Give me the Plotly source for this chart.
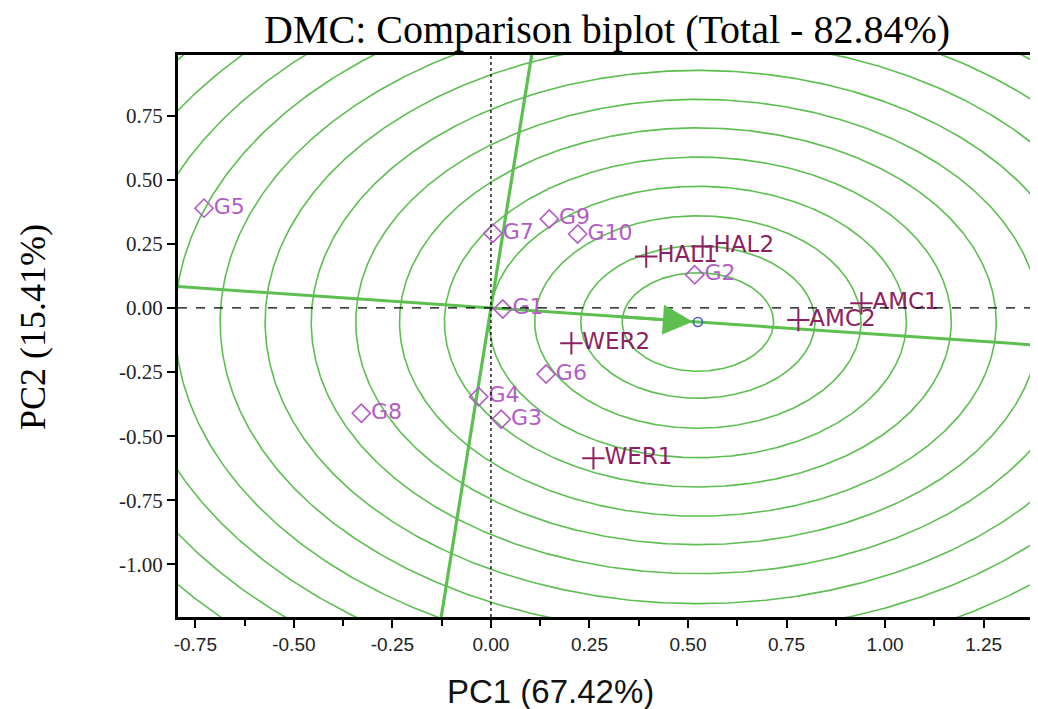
import numpy as np
import plotly.graph_objects as go

# ---------------- data ----------------
gen_names = ["G1", "G2", "G3", "G4", "G5", "G6", "G7", "G8", "G9", "G10"]
gen_pc1 = [0.030, 0.517, 0.026, -0.031, -0.728, 0.140, 0.005, -0.329, 0.148, 0.220]
gen_pc2 = [-0.004, 0.129, -0.434, -0.346, 0.389, -0.258, 0.291, -0.411, 0.347, 0.288]

env_names = ["HAL1", "HAL2", "AMC1", "AMC2", "WER1", "WER2"]
env_pc1 = [0.394, 0.537, 0.940, 0.780, 0.260, 0.204]
env_pc2 = [0.200, 0.239, 0.018, -0.047, -0.586, -0.138]

ideal_pc1 = [0.525]
ideal_pc2 = [-0.055]

circle_radii = [0.192, 0.297, 0.414, 0.529, 0.643, 0.757, 0.868, 0.981, 1.098,
                1.212, 1.327, 1.441, 1.556, 1.670, 1.785, 1.900]

x_tick_vals = [-0.75, -0.50, -0.25, 0.00, 0.25, 0.50, 0.75, 1.00, 1.25]
x_tick_text = ["-0.75", "-0.50", "-0.25", "0.00", "0.25", "0.50", "0.75", "1.00", "1.25"]
y_tick_vals = [0.75, 0.50, 0.25, 0.00, -0.25, -0.50, -0.75, -1.00]
y_tick_text = ["0.75", "0.50", "0.25", "0.00", "-0.25", "-0.50", "-0.75", "-1.00"]

title_text = "DMC: Comparison biplot (Total - 82.84%)"
x_title = "PC1 (67.42%)"
y_title = "PC2 (15.41%)"

# ---------------- styling ----------------
XR = [-0.794, 1.388]
YR = [-1.205, 0.986]
GREEN = "#5cbf50"
GEN_COL = "#b35cc6"
ENV_COL = "#8e1f63"
BLUE = "#4660c4"

fig = go.Figure()

cx, cy = ideal_pc1[0], ideal_pc2[0]

# concentric circles
theta = np.linspace(0, 2 * np.pi, 721)
for r in circle_radii:
    fig.add_trace(go.Scatter(x=cx + r * np.cos(theta), y=cy + r * np.sin(theta),
                             mode="lines", line=dict(color=GREEN, width=1.6),
                             hoverinfo="skip", showlegend=False))

# zero reference lines
fig.add_shape(type="line", x0=XR[0], x1=XR[1], y0=0, y1=0, xref="x", yref="y",
              line=dict(color="black", width=1.3, dash="dash"))
fig.add_shape(type="line", x0=0, x1=0, y0=YR[0], y1=YR[1], xref="x", yref="y",
              line=dict(color="black", width=1.3, dash="dot"))

# average environment axis (through origin and ideal point)
slope = cy / cx
fig.add_trace(go.Scatter(x=[XR[0], XR[1]], y=[slope * XR[0], slope * XR[1]],
                         mode="lines", line=dict(color=GREEN, width=3),
                         hoverinfo="skip", showlegend=False))
# perpendicular through origin
pslope = -cx / cy
fig.add_trace(go.Scatter(x=[YR[0] / pslope, YR[1] / pslope], y=[YR[0], YR[1]],
                         mode="lines", line=dict(color=GREEN, width=3.2),
                         hoverinfo="skip", showlegend=False))

# arrow toward ideal point
fig.add_annotation(x=cx, y=cy, ax=cx * 0.62, ay=cy * 0.62, xref="x", yref="y",
                   axref="x", ayref="y", text="", showarrow=True, arrowhead=2,
                   arrowsize=2.0, arrowwidth=3, arrowcolor=GREEN, standoff=5)

# genotypes
fig.add_trace(go.Scatter(x=gen_pc1, y=gen_pc2, mode="markers+text", text=gen_names,
                         textposition="middle right",
                         textfont=dict(family="DejaVu Sans", size=22, color=GEN_COL),
                         marker=dict(symbol="diamond-open", size=14, color=GEN_COL,
                                     line=dict(color=GEN_COL, width=1.6)),
                         showlegend=False))
# environments
fig.add_trace(go.Scatter(x=env_pc1, y=env_pc2, mode="markers+text", text=env_names,
                         textposition="middle right",
                         textfont=dict(family="DejaVu Sans", size=23, color=ENV_COL),
                         marker=dict(symbol="cross-thin-open", size=16, color=ENV_COL,
                                     line=dict(color=ENV_COL, width=2)),
                         showlegend=False))
# ideal point
fig.add_trace(go.Scatter(x=ideal_pc1, y=ideal_pc2, mode="markers",
                         marker=dict(symbol="circle-open", size=9, color=BLUE,
                                     line=dict(color=BLUE, width=1.6)),
                         showlegend=False))

fig.update_xaxes(range=XR, tickvals=x_tick_vals, ticktext=x_tick_text,
                 showgrid=False, zeroline=False, showline=True, linecolor="black",
                 linewidth=3, mirror=True, ticks="outside", ticklen=8, tickwidth=2,
                 tickcolor="black",
                 tickfont=dict(family="Liberation Sans, Arial", size=19, color="#222"),
                 minor=dict(ticks="outside", ticklen=6, tickwidth=1.5,
                            tickcolor="black", dtick=0.125, tick0=0))
fig.update_yaxes(range=YR, tickvals=y_tick_vals, ticktext=y_tick_text,
                 showgrid=False, zeroline=False, showline=True, linecolor="black",
                 linewidth=3, ticks="outside", ticklen=8, tickwidth=2,
                 tickcolor="black",
                 tickfont=dict(family="Liberation Serif, Times New Roman", size=21,
                               color="#222"))

fig.add_annotation(text=title_text, xref="paper", yref="paper", x=0.4994, y=1.046,
                   showarrow=False, xanchor="center", yanchor="middle",
                   font=dict(family="Liberation Serif, Times New Roman", size=40,
                             color="black"))
fig.add_annotation(text=x_title, xref="paper", yref="paper", x=0.4326, y=-0.133,
                   showarrow=False, xanchor="center", yanchor="middle",
                   font=dict(family="Liberation Sans, Arial", size=33, color="#111"))
fig.add_annotation(text=y_title, xref="paper", yref="paper", x=-0.1686, y=0.516,
                   showarrow=False, xanchor="center", yanchor="middle", textangle=-90,
                   font=dict(family="Liberation Serif, Times New Roman", size=36,
                             color="black"))

# page body adds an 8px offset; margins compensate so the plot area sits at
# x 178..1038, y 55..617 in the window
fig.update_layout(width=1038, height=709, margin=dict(l=170, r=8, t=47, b=100),
                  plot_bgcolor="white", paper_bgcolor="white")

fig.write_html("out.html")
